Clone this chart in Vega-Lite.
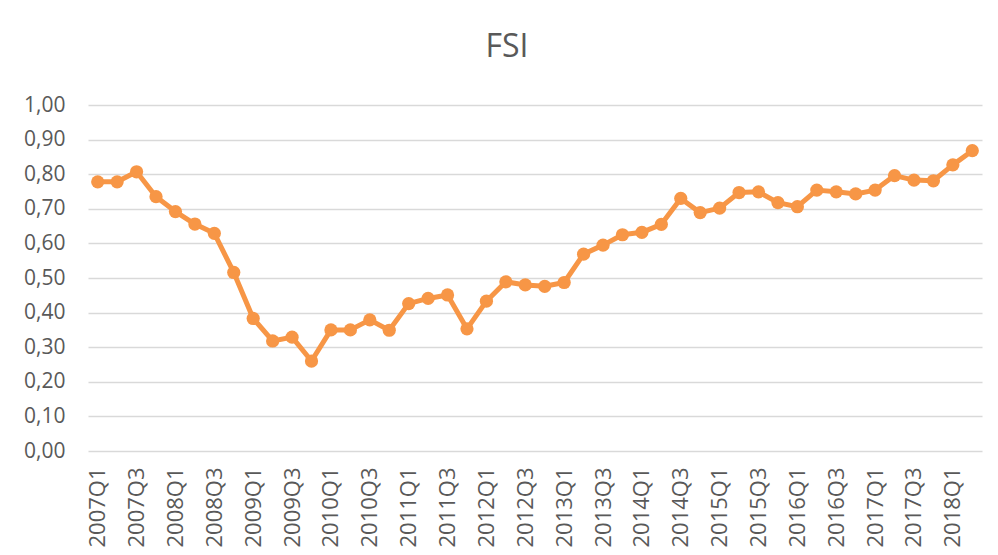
{
  "$schema": "https://vega.github.io/schema/vega-lite/v6.json",
  "autosize": {"type": "none"},
  "width": 894,
  "height": 346,
  "padding": {"left": 88, "top": 105, "right": 16, "bottom": 104},
  "background": "white",
  "config": {"view": {"stroke": null}, "font": "Open Sans"},
  "title": {"text": "FSI", "fontSize": 32, "font": "Open Sans", "fontWeight": "normal", "color": "#595959", "offset": 30, "dx": -28},
  "data": {"values": [
    {"q": "2007Q1", "v": 0.778}, {"q": "2007Q2", "v": 0.778}, {"q": "2007Q3", "v": 0.807}, {"q": "2007Q4", "v": 0.735},
    {"q": "2008Q1", "v": 0.692}, {"q": "2008Q2", "v": 0.656}, {"q": "2008Q3", "v": 0.629}, {"q": "2008Q4", "v": 0.516},
    {"q": "2009Q1", "v": 0.383}, {"q": "2009Q2", "v": 0.318}, {"q": "2009Q3", "v": 0.329}, {"q": "2009Q4", "v": 0.26},
    {"q": "2010Q1", "v": 0.35}, {"q": "2010Q2", "v": 0.35}, {"q": "2010Q3", "v": 0.379}, {"q": "2010Q4", "v": 0.349},
    {"q": "2011Q1", "v": 0.426}, {"q": "2011Q2", "v": 0.441}, {"q": "2011Q3", "v": 0.451}, {"q": "2011Q4", "v": 0.353},
    {"q": "2012Q1", "v": 0.433}, {"q": "2012Q2", "v": 0.489}, {"q": "2012Q3", "v": 0.48}, {"q": "2012Q4", "v": 0.476},
    {"q": "2013Q1", "v": 0.487}, {"q": "2013Q2", "v": 0.569}, {"q": "2013Q3", "v": 0.595}, {"q": "2013Q4", "v": 0.625},
    {"q": "2014Q1", "v": 0.632}, {"q": "2014Q2", "v": 0.655}, {"q": "2014Q3", "v": 0.73}, {"q": "2014Q4", "v": 0.689},
    {"q": "2015Q1", "v": 0.702}, {"q": "2015Q2", "v": 0.747}, {"q": "2015Q3", "v": 0.749}, {"q": "2015Q4", "v": 0.718},
    {"q": "2016Q1", "v": 0.706}, {"q": "2016Q2", "v": 0.754}, {"q": "2016Q3", "v": 0.749}, {"q": "2016Q4", "v": 0.743},
    {"q": "2017Q1", "v": 0.754}, {"q": "2017Q2", "v": 0.796}, {"q": "2017Q3", "v": 0.783}, {"q": "2017Q4", "v": 0.781},
    {"q": "2018Q1", "v": 0.827}, {"q": "2018Q2", "v": 0.868}
  ]},
  "encoding": {
    "x": {
      "field": "q", "type": "ordinal", "sort": null,
      "scale": {"type": "point", "padding": 0.5},
      "axis": {
        "title": null, "labelAngle": 270, "labelAlign": "right", "labelBaseline": "middle",
        "labelFontSize": 22, "labelColor": "#595959", "labelFont": "Open Sans",
        "labelPadding": 16, "ticks": false, "domain": false, "grid": false,
        "values": ["2007Q1","2007Q3","2008Q1","2008Q3","2009Q1","2009Q3","2010Q1","2010Q3","2011Q1","2011Q3","2012Q1","2012Q3","2013Q1","2013Q3","2014Q1","2014Q3","2015Q1","2015Q3","2016Q1","2016Q3","2017Q1","2017Q3","2018Q1"]
      }
    },
    "y": {
      "field": "v", "type": "quantitative",
      "scale": {"domain": [0, 1], "nice": false, "zero": true},
      "axis": {
        "title": null, "values": [0, 0.1, 0.2, 0.3, 0.4, 0.5, 0.6, 0.7, 0.8, 0.9, 1.0],
        "labelExpr": "replace(format(datum.value, '.2f'), '.', ',')",
        "labelFontSize": 21, "labelColor": "#595959", "labelFont": "Open Sans",
        "labelPadding": 23, "ticks": false, "domain": false,
        "grid": true, "gridColor": "#d9d9d9", "gridWidth": 1.3
      }
    }
  },
  "layer": [
    {"mark": {"type": "line", "color": "#F79646", "strokeWidth": 5, "strokeJoin": "round", "strokeCap": "round"}},
    {"mark": {"type": "point", "filled": true, "opacity": 1, "color": "#F79646", "size": 175}}
  ]
}
